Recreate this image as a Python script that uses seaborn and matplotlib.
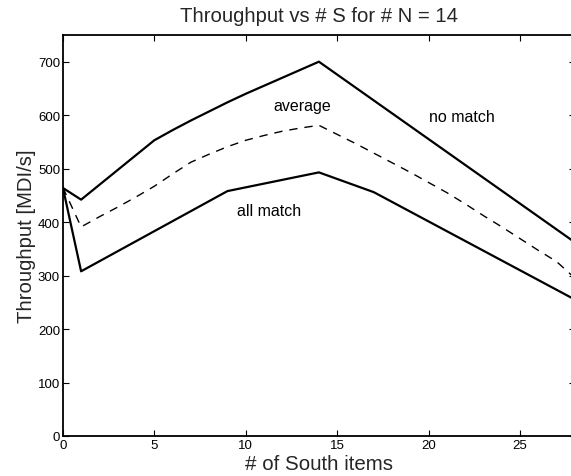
import matplotlib
matplotlib.use("Agg")
import matplotlib.pyplot as plt
import seaborn as sns
import pandas as pd

# ---- data ----
x_no_match = [0, 1, 5, 6, 7, 8, 9, 10, 11, 12, 13, 14, 28]
y_no_match = [464, 442, 553, 572, 590, 607, 624, 640, 655, 670, 685, 700, 362]

x_average = [0, 1, 2, 3, 4, 5, 6, 7, 8, 9, 10, 11, 12, 13, 14, 15, 16, 17, 18, 19, 20, 21, 22, 23, 24, 25, 26, 27, 28]
y_average = [465, 391, 410, 428, 447, 467, 490, 512, 527, 541, 553, 562, 570, 576, 581, 564, 547, 529, 511, 493, 474, 455, 434, 412, 391, 369, 347, 326, 295]

x_all_match = [0, 1, 5, 9, 14, 17, 28]
y_all_match = [465, 308, 383, 458, 493, 456, 255]

labels = ["no match", "average", "all match"]
label_pos_x = [21.8, 13.1, 11.3]
label_pos_y = [597, 619, 422]

title = "Throughput vs # S for # N = 14"
xlabel = "# of South items"
ylabel = "Throughput [MDI/s]"
xticks = [0, 5, 10, 15, 20, 25]
yticks = [0, 100, 200, 300, 400, 500, 600, 700]

sns.set_style("ticks")
plt.rcParams["font.family"] = ["Liberation Sans", "DejaVu Sans"]

fig = plt.figure(figsize=(5.71, 4.77), dpi=100)
ax = fig.add_axes([0.110, 0.0839, 0.897, 0.8407])

df_nm = pd.DataFrame({"x": x_no_match, "y": y_no_match})
df_av = pd.DataFrame({"x": x_average, "y": y_average})
df_am = pd.DataFrame({"x": x_all_match, "y": y_all_match})

sns.lineplot(data=df_nm, x="x", y="y", ax=ax, color="black", linewidth=1.6)
sns.lineplot(data=df_av, x="x", y="y", ax=ax, color="black", linewidth=1.0, linestyle=(0, (6, 5)))
sns.lineplot(data=df_am, x="x", y="y", ax=ax, color="black", linewidth=1.6)

for t, lx, ly in zip(labels, label_pos_x, label_pos_y):
    ax.text(lx, ly, t, ha="center", va="center", fontsize=11.5, color="black")

ax.set_xlim(0, 28)
ax.set_ylim(0, 750)
ax.set_xticks(xticks)
ax.set_yticks(yticks)
ax.tick_params(direction="in", top=True, right=True, length=4, width=0.8,
               labelsize=9.5, colors="black", pad=2)
for s in ax.spines.values():
    s.set_visible(True)
    s.set_linewidth(1.3)
    s.set_color("black")

ax.set_title(title, fontsize=14.6, pad=10)
ax.set_xlabel(xlabel, fontsize=14.8, labelpad=2)
ax.set_ylabel(ylabel, fontsize=14.6, labelpad=1.5)

fig.savefig("out.png", dpi=100)
